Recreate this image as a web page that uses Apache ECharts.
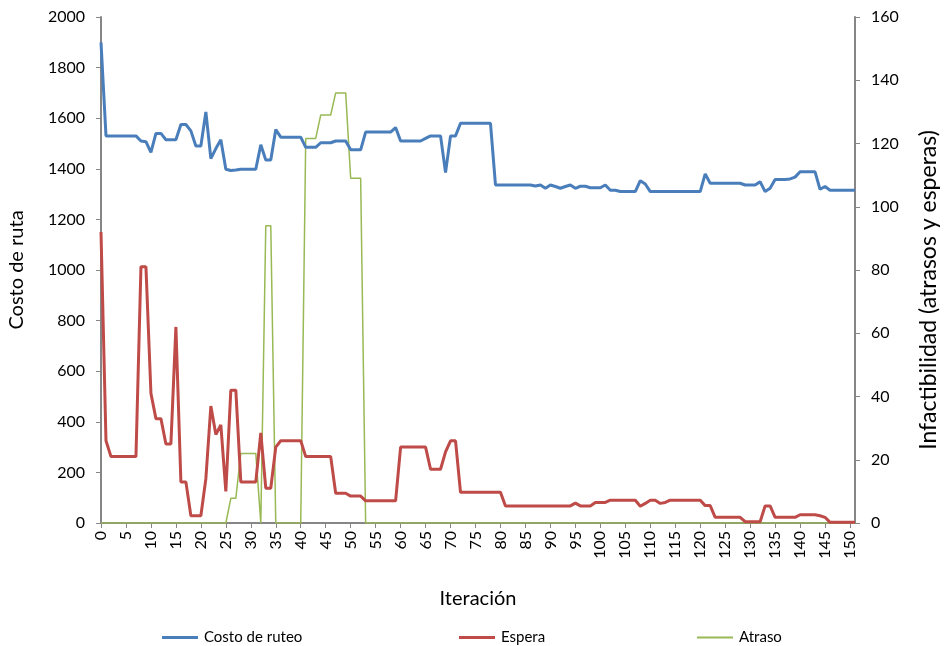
<!DOCTYPE html>
<html>
<head>
<meta charset="utf-8">
<script src="https://cdn.jsdelivr.net/npm/echarts@6/dist/echarts.min.js"></script>
<style>html,body{margin:0;padding:0;background:#fff}#c{width:944px;height:646px}</style>
</head>
<body>
<div id="c"></div>
<script>
const iterations = Array.from({length: 152}, (_, i) => String(i));

const costoRuteo = [
  1900,1530,1530,1530,1530,1530,1530,1530,1510,1507,
  1465,1540,1540,1515,1515,1515,1575,1575,1550,1490,
  1490,1625,1440,1480,1515,1398,1393,1395,1398,1398,
  1398,1398,1495,1435,1435,1555,1525,1525,1525,1525,
  1525,1485,1485,1485,1503,1503,1503,1510,1510,1510,
  1475,1475,1475,1545,1545,1545,1545,1545,1545,1563,
  1510,1510,1510,1510,1510,1520,1530,1530,1530,1385,
  1530,1530,1580,1580,1580,1580,1580,1580,1580,1336,
  1336,1336,1336,1336,1336,1336,1336,1332,1336,1323,
  1336,1330,1323,1330,1336,1323,1331,1331,1325,1325,
  1325,1336,1315,1315,1310,1310,1310,1310,1353,1340,
  1310,1310,1310,1310,1310,1310,1310,1310,1310,1310,
  1310,1380,1343,1343,1343,1343,1343,1343,1343,1336,
  1336,1336,1349,1310,1323,1358,1358,1358,1360,1367,
  1388,1388,1388,1388,1319,1330,1315,1315,1315,1315,
  1315,1315
];

const espera = [
  92,26,21,21,21,21,21,21,81,81,
  41,33,33,25,25,62,13,13,2.3,2.3,
  2.3,14,37,28,31,10,42,42,13,13,
  13,13,28.5,11,11,24,26,26,26,26,
  26,21,21,21,21,21,21,9.4,9.4,9.4,
  8.5,8.5,8.5,7,7,7,7,7,7,7,
  24,24,24,24,24,24,17,17,17,22.5,
  26,26,9.7,9.7,9.7,9.7,9.7,9.7,9.7,9.7,
  9.7,5.4,5.4,5.4,5.4,5.4,5.4,5.4,5.4,5.4,
  5.4,5.4,5.4,5.4,5.4,6.3,5.4,5.4,5.4,6.5,
  6.5,6.5,7.2,7.2,7.2,7.2,7.2,7.2,5.3,6.2,
  7.2,7.2,6.2,6.5,7.2,7.2,7.2,7.2,7.2,7.2,
  7.2,5.5,5.5,1.8,1.8,1.8,1.8,1.8,1.8,0.4,
  0.4,0.4,0.4,5.4,5.4,1.8,1.8,1.8,1.8,1.8,
  2.6,2.6,2.6,2.6,2.3,1.8,0.2,0.2,0.2,0.2,
  0.2,0.2
];

const atraso = [
  0,0,0,0,0,0,0,0,0,0,
  0,0,0,0,0,0,0,0,0,0,
  0,0,0,0,0,0,7.8,7.8,22,22,
  22,22,0,94,94,0,0,0,0,0,
  0,121.6,121.6,121.6,129,129,129,136,136,136,
  109,109,109,0,0,0,0,0,0,0,
  0,0,0,0,0,0,0,0,0,0,
  0,0,0,0,0,0,0,0,0,0,
  0,0,0,0,0,0,0,0,0,0,
  0,0,0,0,0,0,0,0,0,0,
  0,0,0,0,0,0,0,0,0,0,
  0,0,0,0,0,0,0,0,0,0,
  0,0,0,0,0,0,0,0,0,0,
  0,0,0,0,0,0,0,0,0,0,
  0,0,0,0,0,0,0,0,0,0,
  0,0
];

const FONT = 'Lato';
const axisGray = '#868686';
const COLORS = {blue: '#4A7EBB', red: '#BE4B48', green: '#98B954'};
const chart = echarts.init(document.getElementById('c'), null, {renderer: 'canvas'});

function legendFor(name, left, h) {
  return {
    data: [{name: name, icon: 'rect'}], left: left, top: 625, orient: 'horizontal',
    itemWidth: 36, itemHeight: h, itemGap: 6,
    textStyle: {fontFamily: FONT, fontSize: 15, color: '#000', padding: [0, 0, 0, 1]}
  };
}

chart.setOption({
  animation: false,
  backgroundColor: '#fff',
  textStyle: {fontFamily: FONT},
  grid: {left: 101, right: 89, top: 17, bottom: 123, containLabel: false, outerBoundsMode: 'none'},
  legend: [legendFor('Costo de ruteo', 157, 3), legendFor('Espera', 454, 3), legendFor('Atraso', 692, 2)],
  xAxis: {
    type: 'category', data: iterations, boundaryGap: false,
    name: 'Iteración', nameLocation: 'middle', nameGap: 66,
    nameTextStyle: {fontFamily: FONT, fontSize: 20, color: '#000'},
    axisLine: {lineStyle: {color: axisGray, width: 2}},
    axisTick: {interval: 4, length: 5, inside: false, lineStyle: {color: axisGray}},
    axisLabel: {interval: 4, rotate: 90, fontFamily: FONT, fontSize: 16, color: '#000', margin: 8},
    splitLine: {show: false}
  },
  yAxis: [{
    type: 'value', min: 0, max: 2000, interval: 200, position: 'left',
    name: 'Costo de ruta', nameLocation: 'middle', nameGap: 74, nameRotate: 90,
    nameTextStyle: {fontFamily: FONT, fontSize: 20, color: '#000'},
    axisLine: {show: true, lineStyle: {color: axisGray, width: 2}},
    axisTick: {show: true, length: 5, lineStyle: {color: axisGray}},
    axisLabel: {fontFamily: FONT, fontSize: 16, color: '#000', margin: 16, formatter: v => String(v)},
    splitLine: {show: false}
  }, {
    type: 'value', min: 0, max: 160, interval: 20, position: 'right',
    name: 'Infactibilidad (atrasos y esperas)', nameLocation: 'middle', nameGap: 62, nameRotate: 90,
    nameTextStyle: {fontFamily: FONT, fontSize: 23, color: '#000', padding: [0, 40, 0, 0]},
    axisLine: {show: true, lineStyle: {color: axisGray, width: 2}},
    axisTick: {show: true, length: 5, lineStyle: {color: axisGray}},
    axisLabel: {fontFamily: FONT, fontSize: 16, color: '#000', margin: 16, formatter: v => String(v)},
    splitLine: {show: false}
  }],
  series: [{
    name: 'Costo de ruteo', type: 'line', yAxisIndex: 0, data: costoRuteo,
    symbol: 'none', showSymbol: false, z: 3,
    lineStyle: {color: COLORS.blue, width: 3}, itemStyle: {color: COLORS.blue}
  }, {
    name: 'Espera', type: 'line', yAxisIndex: 1, data: espera,
    symbol: 'none', showSymbol: false, z: 2,
    lineStyle: {color: COLORS.red, width: 3}, itemStyle: {color: COLORS.red}
  }, {
    name: 'Atraso', type: 'line', yAxisIndex: 1, data: atraso,
    symbol: 'none', showSymbol: false, z: 1,
    lineStyle: {color: COLORS.green, width: 1.5}, itemStyle: {color: COLORS.green}
  }]
});
</script>
</body>
</html>
